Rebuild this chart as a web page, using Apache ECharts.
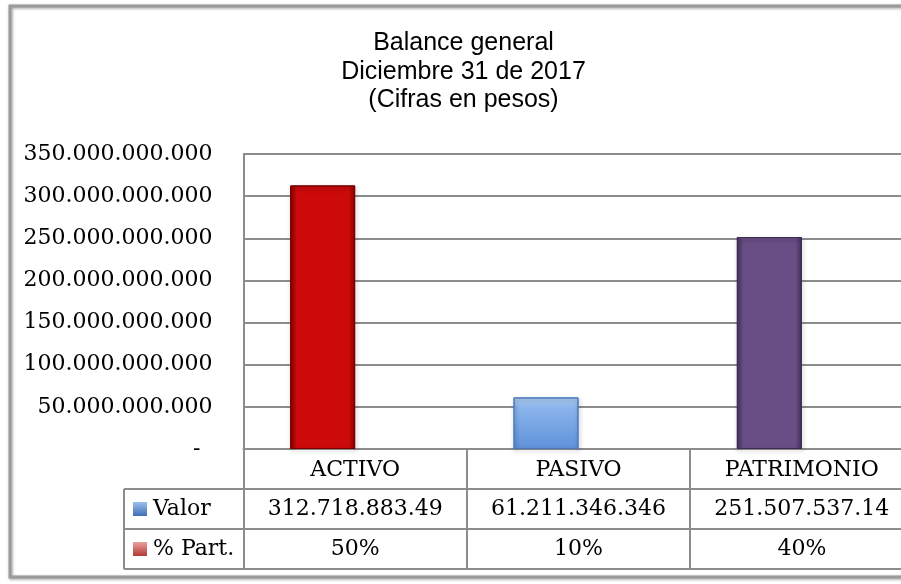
<!DOCTYPE html>
<html>
<head>
<meta charset="utf-8">
<script src="https://cdn.jsdelivr.net/npm/echarts@6/dist/echarts.min.js"></script>
<style>
  html, body { margin: 0; padding: 0; background: #fff; }
  #main { width: 901px; height: 584px; }
</style>
</head>
<body>
<div id="main"></div>
<script>
var chartDom = document.getElementById('main');
var myChart = echarts.init(chartDom);

// datos
var titleLines = ['Balance general', 'Diciembre 31 de 2017', '(Cifras en pesos)'];
var categories = ['ACTIVO', 'PASIVO', 'PATRIMONIO'];
var valorValues = [312718883490, 61211346346, 251507537140];
var valorLabels = ['312.718.883.49', '61.211.346.346', '251.507.537.14'];
var partValues = [50, 10, 40];
var seriesNames = ['Valor', '% Part.'];
var yMax = 350000000000;
var yStep = 50000000000;

var serif = 'DejaVu Serif';
var gridGray = '#8c8c8c';

function fmtMiles(v) {
  return String(Math.round(v)).replace(/\B(?=(\d{3})+(?!\d))/g, '.');
}

function hGrad(edge, main) {
  return new echarts.graphic.LinearGradient(0, 0, 1, 0, [
    { offset: 0, color: edge },
    { offset: 0.1, color: main },
    { offset: 0.9, color: main },
    { offset: 1, color: edge }
  ]);
}

var barStyles = [
  { color: hGrad('#8a0000', '#cc0a0a'), borderColor: '#7a0000' },
  {
    color: new echarts.graphic.LinearGradient(0, 0, 0, 1, [
      { offset: 0, color: '#b4d2f6' },
      { offset: 0.2, color: '#8ab4ec' },
      { offset: 1, color: '#5f92da' }
    ]),
    borderColor: '#4b78bd'
  },
  { color: hGrad('#47335e', '#684e84'), borderColor: '#3e2c52' }
];

var option = {
  animation: false,
  backgroundColor: '#fff',
  // el area del grafico sigue fuera del borde derecho
  grid: { left: 243.5, width: 670, top: 154, bottom: 135, outerBoundsMode: 'none', containLabel: false },
  xAxis: {
    type: 'category',
    data: categories,
    axisLine: { show: true, lineStyle: { color: gridGray, width: 2 } },
    axisTick: { show: true, alignWithLabel: false, interval: 0, length: 121, lineStyle: { color: gridGray, width: 2 } },
    axisLabel: { margin: 10, fontFamily: serif, fontSize: 22, color: '#000', lineHeight: 22, interval: 0 }
  },
  yAxis: {
    type: 'value',
    min: 0,
    max: yMax,
    interval: yStep,
    axisLine: { show: true, lineStyle: { color: gridGray, width: 2 } },
    axisTick: { show: false },
    splitLine: { lineStyle: { color: gridGray, width: 2 } },
    axisLabel: {
      margin: 31,
      fontFamily: serif,
      fontSize: 22,
      color: '#000',
      formatter: function (v) {
        return v === 0 ? '{d|-}' : fmtMiles(v);
      },
      rich: { d: { fontFamily: serif, fontSize: 22, color: '#000', padding: [0, 12, 0, 0] } }
    }
  },
  series: [
    {
      name: seriesNames[0],
      type: 'bar',
      barWidth: 65,
      barGap: '0%',
      data: valorValues.map(function (v, i) {
        return {
          value: v,
          itemStyle: {
            color: barStyles[i].color,
            borderColor: barStyles[i].borderColor,
            borderWidth: 1,
            shadowBlur: 4,
            shadowOffsetX: 1,
            shadowOffsetY: 2,
            shadowColor: 'rgba(0,0,0,0.35)'
          }
        };
      })
    },
    {
      name: seriesNames[1],
      type: 'bar',
      barWidth: 65,
      barGap: '0%',
      itemStyle: { color: '#c0504d' },
      data: partValues.map(function (p) { return p / 100; })
    }
  ]
};

myChart.setOption(option);

// tabla de datos debajo del eje
var cx = categories.map(function (c) {
  return myChart.convertToPixel({ xAxisIndex: 0 }, c);
});
var y0 = myChart.convertToPixel({ yAxisIndex: 0 }, 0);
var rowH = 40;
var keyLeft = 124;
var lineStyle = { stroke: gridGray, lineWidth: 2 };

var graphics = [];

// marco exterior
graphics.push({
  type: 'rect',
  shape: { x: 10, y: 6, width: 960, height: 571 },
  style: { fill: null, stroke: '#9a9a9a', lineWidth: 3, shadowBlur: 3, shadowOffsetX: 1, shadowOffsetY: 1, shadowColor: 'rgba(0,0,0,0.4)' },
  silent: true
});

// titulo
graphics.push({
  type: 'text',
  x: 463.5,
  y: 29,
  style: {
    text: titleLines.join('\n'),
    fontSize: 25,
    fontFamily: 'Liberation Sans',
    lineHeight: 28.5,
    fill: '#000',
    align: 'center',
    verticalAlign: 'top'
  }
});

// lineas horizontales de la tabla
for (var r = 1; r <= 3; r++) {
  graphics.push({
    type: 'line',
    shape: { x1: keyLeft, y1: y0 + r * rowH, x2: 960, y2: y0 + r * rowH },
    style: lineStyle
  });
}
graphics.push({
  type: 'line',
  shape: { x1: keyLeft, y1: y0 + rowH, x2: keyLeft, y2: y0 + 3 * rowH },
  style: lineStyle
});

// claves de leyenda
var keyColors = [
  ['#9cc0ec', '#3f6fb4'],
  ['#eca0a0', '#b03a38']
];
var rowTexts = [valorLabels, partValues.map(function (p) { return p + '%'; })];
for (var k = 0; k < 2; k++) {
  var rowMid = y0 + rowH * (k + 1.5);
  graphics.push({
    type: 'rect',
    shape: { x: 133, y: rowMid - 7, width: 14, height: 14 },
    style: {
      fill: new echarts.graphic.LinearGradient(0, 0, 0, 1, [
        { offset: 0, color: keyColors[k][0] },
        { offset: 1, color: keyColors[k][1] }
      ])
    }
  });
  graphics.push({
    type: 'text',
    x: 153,
    y: rowMid,
    style: { text: seriesNames[k], fontSize: 22, fontFamily: serif, fill: '#000', align: 'left', verticalAlign: 'middle' }
  });
  for (var c = 0; c < categories.length; c++) {
    graphics.push({
      type: 'text',
      x: cx[c],
      y: rowMid,
      style: { text: rowTexts[k][c], fontSize: 22, fontFamily: serif, fill: '#000', align: 'center', verticalAlign: 'middle' }
    });
  }
}

myChart.setOption({ graphic: graphics });
</script>
</body>
</html>
